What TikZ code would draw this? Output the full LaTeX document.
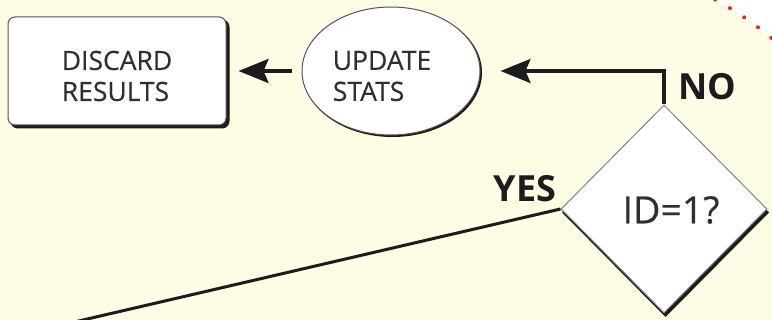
\documentclass[tikz,border=0pt]{standalone}
\usepackage{fontspec}
\setmainfont{Open Sans}
\newfontfamily\labelfont[FakeBold=0.4]{Open Sans}
\usetikzlibrary{shapes.geometric,shadows,arrows.meta}
\definecolor{cream}{RGB}{254,252,228}
\definecolor{ink}{RGB}{30,27,28}
\definecolor{txt}{RGB}{50,47,48}
\definecolor{dotred}{RGB}{232,38,42}
\begin{document}
\begin{tikzpicture}[x=1pt,y=-1pt,
  every node/.style={text=txt},
  plain/.style={font=\labelfont\fontsize{26.5}{31}\selectfont, align=left},
  bigtext/.style={font=\labelfont\fontsize{37.5}{40}\selectfont},
  answer/.style={font=\bfseries\fontsize{36}{40}\selectfont, text=ink},
  panel/.style={fill=white, draw=ink!75, line width=1pt, inner sep=0pt},
  boxshape/.style={panel, rectangle, rounded corners=7pt,
    minimum width=218pt, minimum height=108pt,
    copy shadow={shadow xshift=3pt, shadow yshift=-3pt, fill=ink, draw=ink}},
  ovalshape/.style={panel, ellipse, minimum width=178pt, minimum height=128pt,
    copy shadow={shadow xshift=1.5pt, shadow yshift=-1.5pt, fill=ink, draw=ink}},
  decision/.style={panel, diamond, minimum width=206pt, minimum height=208pt,
    draw=ink!55,
    copy shadow={shadow xshift=1.5pt, shadow yshift=-3.5pt, fill=ink, draw=ink}},
  flow/.style={draw=ink, line width=3.5pt,
    -{Stealth[length=30pt,width=24pt,inset=5pt]}},
  link/.style={draw=ink, line width=3pt},
  dots/.style={draw=dotred, line width=4pt, line cap=round,
    dash pattern=on 0pt off 17pt}
]
\useasboundingbox (0,0) rectangle (772,320);
\clip (0,0) rectangle (772,320);
\fill[cream] (0,0) rectangle (772,320);

% white corner beyond the red dotted boundary
\fill[white] ([shift={(558,291)}]63:331pt) arc[start angle=63, end angle=45, radius=331pt]
  -- (800,-20) -- cycle;
\draw[dots] ([shift={(558,291)}]61.65:331pt) arc[start angle=61.65, end angle=45, radius=331pt];

% flowchart nodes
\node[boxshape] (discard) at (117,71) {};
\node[plain] (discardtext) at (117,76) {DISCARD\\RESULTS};
\node[ovalshape] (update) at (391,71) {};
\node[plain] (updatetext) at (382,76) {UPDATE\\STATS};
\node[decision] (test) at (664,209) {};
\node[bigtext] (testtext) at (671,210) {ID=1?};

% connectors
\draw[flow, shorten <=10pt, shorten >=12pt] (update.west) -- (discard.east);
\draw[flow, shorten >=20pt] (test.north) |- (update.east);
\coordinate (yesend) at (40,330);
\draw[link] (test.west) -- (yesend);

% branch labels
\node[answer] (no) at (707,87) {NO};
\node[answer] (yes) at (525,189) {YES};
\end{tikzpicture}
\end{document}
